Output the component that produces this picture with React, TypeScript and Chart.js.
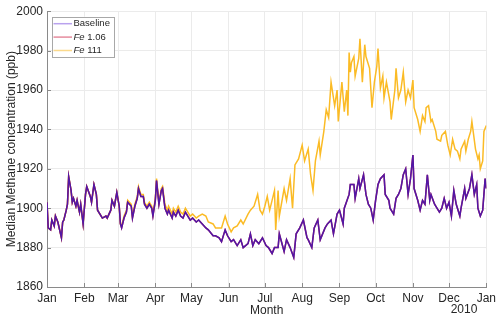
import { useEffect, useRef } from 'react';
import { Chart, registerables } from 'chart.js';

Chart.register(...registerables);

const FONT = '"Liberation Sans", Arial, Helvetica, sans-serif';
const TEXT = '#262626';

const monthLabels = ['Jan', 'Feb', 'Mar', 'Apr', 'May', 'Jun', 'Jul', 'Aug', 'Sep', 'Oct', 'Nov', 'Dec', 'Jan'];
const monthStartDays = [0, 31, 59, 90, 120, 151, 181, 212, 243, 273, 304, 334, 365];
const yearLabel = '2010';

const baselineDays = [
  0, 1, 3, 4, 6, 7, 9, 12, 13, 14,
  16, 17, 18, 20, 21, 22, 24, 25, 27, 28,
  30, 32, 33, 36, 37, 39, 41, 42, 45, 46,
  49, 50, 53, 54, 56, 58, 60, 61, 62, 64,
  66, 67, 70, 71, 73, 75, 76, 78, 80, 81,
  83, 85, 87, 88, 90, 91, 93, 95, 96, 98,
  100, 101, 104, 105, 107, 109, 111, 113, 115, 117,
  119, 121, 124, 126, 129, 132, 134, 138, 140, 143,
  145, 148, 150, 153, 155, 158, 161, 163, 167, 169,
  171, 173, 176, 179, 182, 184, 187, 189, 192, 193,
  197, 199, 202, 205, 207, 210, 213, 216, 217, 220,
  222, 225, 227, 231, 233, 236, 238, 241, 243, 246,
  247, 251, 252, 255, 256, 259, 260, 263, 265, 267,
  269, 271, 273, 275, 277, 280, 281, 284, 285, 288,
  290, 292, 294, 296, 298, 300, 302, 304, 305, 308,
  310, 312, 314, 316, 318, 319, 322, 324, 326, 328,
  330, 332, 334, 336, 338, 340, 343, 344, 347, 348,
  351, 353, 355, 357, 358, 360, 362, 364, 365,
];
const baselineValues = [
  1903, 1890, 1889, 1894, 1891, 1896, 1893, 1885, 1893, 1894,
  1899, 1902, 1916, 1909, 1903, 1905, 1901, 1904, 1898, 1902,
  1892, 1907, 1911, 1906, 1903, 1912, 1907, 1899, 1896, 1895,
  1896, 1895, 1899, 1904, 1901, 1908, 1901, 1892, 1890, 1895,
  1898, 1903, 1901, 1895, 1901, 1905, 1910, 1906, 1906, 1902,
  1900, 1902, 1900, 1896, 1904, 1914, 1902, 1909, 1910, 1900,
  1897, 1899, 1895, 1898, 1896, 1899, 1896, 1895, 1898, 1896,
  1894, 1895, 1893, 1894, 1892, 1890, 1889, 1886, 1886, 1885,
  1883, 1889, 1886, 1883, 1884, 1881, 1884, 1880, 1882, 1887,
  1881, 1884, 1882, 1885, 1881, 1880, 1877, 1880, 1880, 1887,
  1878, 1884, 1880, 1875, 1887, 1890, 1894, 1885, 1884, 1880,
  1890, 1894, 1884, 1890, 1892, 1894, 1887, 1897, 1899, 1892,
  1900, 1907, 1912, 1912, 1905, 1915, 1910, 1917, 1907, 1902,
  1900, 1894, 1904, 1912, 1915, 1917, 1907, 1904, 1900, 1897,
  1905, 1907, 1910, 1917, 1920, 1907, 1915, 1927, 1910, 1904,
  1899, 1904, 1902, 1917, 1904, 1907, 1902, 1900, 1898, 1900,
  1905, 1900, 1903, 1896, 1909, 1902, 1896, 1900, 1910, 1905,
  1910, 1917, 1907, 1912, 1900, 1896, 1899, 1915, 1910,
];

// Fe 1.06 is indistinguishable from the Baseline curve in the picture
const fe106Days = baselineDays;
const fe106Values = baselineValues;

const fe111Days = [
  0, 1, 3, 4, 6, 7, 9, 12, 13, 14,
  16, 17, 18, 20, 21, 22, 24, 25, 27, 28,
  30, 32, 33, 36, 37, 39, 41, 42, 45, 46,
  49, 50, 53, 54, 56, 58, 60, 61, 62, 64,
  66, 67, 70, 71, 73, 75, 76, 78, 80, 81,
  83, 85, 87, 88, 90, 91, 93, 95, 96, 98,
  100, 101, 104, 105, 107, 109, 111, 113, 115, 117,
  119, 121, 124, 126, 129, 132, 134, 138, 140, 143,
  145, 148, 150, 153, 155, 158, 161, 163, 167, 169,
  172, 175, 177, 179, 181, 183, 185, 187, 189, 190,
  192, 193, 197, 199, 202, 204, 206, 209, 212, 214,
  217, 219, 221, 223, 226, 227, 230, 232, 234, 236,
  239, 241, 242, 245, 247, 249, 250, 251, 252, 253,
  255, 256, 259, 260, 262, 264, 265, 268, 270, 272,
  274, 275, 277, 279, 280, 282, 285, 286, 289, 290,
  292, 294, 296, 298, 300, 302, 304, 305, 308, 310,
  312, 314, 315, 317, 319, 320, 323, 324, 327, 328,
  331, 333, 335, 337, 339, 341, 343, 344, 347, 348,
  350, 352, 353, 356, 358, 359, 360, 362, 363, 365,
];
const fe111Values = [
  1903, 1890, 1889, 1894, 1891, 1896, 1893, 1885, 1893, 1894,
  1899, 1902, 1916, 1909, 1903, 1905, 1901, 1904, 1898, 1902,
  1892, 1907, 1911, 1906, 1903, 1912, 1907, 1899, 1896, 1895,
  1896, 1895, 1899, 1904, 1901, 1908, 1901, 1892, 1891, 1896,
  1899, 1904, 1902, 1896, 1902, 1906, 1911, 1907, 1907, 1903,
  1901, 1903, 1901, 1897, 1905, 1915, 1903, 1910, 1911, 1902,
  1899, 1901, 1897, 1900, 1898, 1901, 1898, 1897, 1900, 1898,
  1896, 1897, 1895, 1896, 1897, 1896, 1893, 1892, 1890, 1890,
  1890, 1896, 1892, 1888, 1890, 1891, 1894, 1892, 1897, 1899,
  1901, 1907, 1899, 1897, 1901, 1906, 1899, 1904, 1909, 1889,
  1909, 1896, 1910, 1904, 1915, 1900, 1922, 1925, 1932, 1924,
  1930, 1917, 1909, 1924, 1934, 1927, 1939, 1950, 1946, 1964,
  1952, 1960, 1944, 1964, 1949, 1960, 1947, 1979, 1969, 1974,
  1977, 1967, 1976, 1986, 1964, 1983, 1977, 1971, 1951, 1964,
  1972, 1981, 1961, 1967, 1956, 1964, 1954, 1945, 1960, 1971,
  1956, 1960, 1969, 1954, 1960, 1956, 1965, 1951, 1945, 1939,
  1947, 1944, 1951, 1952, 1944, 1945, 1939, 1935, 1934, 1937,
  1939, 1932, 1927, 1935, 1930, 1929, 1925, 1930, 1934, 1929,
  1935, 1939, 1944, 1930, 1925, 1927, 1920, 1924, 1939, 1942,
];

const yMin = 1860;
const yMax = 2000;
const yStep = 20;

const seriesColors = ['#5217a6', '#c4314f', '#fbbb25'];
const legendColors = ['#b9a2ee', '#e68c9e', '#fbd98c'];
const legendItems = [
  { italic: '', rest: 'Baseline' },
  { italic: 'Fe', rest: ' 1.06' },
  { italic: 'Fe', rest: ' 111' },
];

const toPoints = (d: number[], v: number[]) => d.map((x, i) => ({ x, y: v[i] }));

const decorPlugin = {
  id: 'decor',
  beforeDatasetsDraw(chart: any) {
    const { ctx, chartArea: a, scales } = chart;
    ctx.save();
    ctx.strokeStyle = '#8a8a8a';
    ctx.lineWidth = 1;
    ctx.beginPath();
    for (const d of monthStartDays) {
      const x = Math.round(scales.x.getPixelForValue(d)) + 0.5;
      ctx.moveTo(x, a.bottom);
      ctx.lineTo(x, a.bottom - 4);
    }
    for (let v = yMin; v <= yMax; v += yStep) {
      const y = Math.round(scales.y.getPixelForValue(v)) + 0.5;
      ctx.moveTo(a.left, y);
      ctx.lineTo(a.left + 4, y);
    }
    ctx.stroke();
    ctx.restore();
  },
  afterDraw(chart: any) {
    const { ctx, chartArea: a } = chart;
    ctx.save();
    ctx.fillStyle = TEXT;
    // axis titles
    ctx.font = `12px ${FONT}`;
    ctx.textAlign = 'center';
    ctx.textBaseline = 'alphabetic';
    ctx.fillText('Month', (a.left + a.right) / 2, 314);
    ctx.textAlign = 'right';
    ctx.fillText(yearLabel, a.right - 9, 313);
    ctx.save();
    ctx.translate(15, (a.top + a.bottom) / 2);
    ctx.rotate(-Math.PI / 2);
    ctx.textAlign = 'center';
    ctx.fillText('Median Methane concentration (ppb)', 0, 0);
    ctx.restore();

    // legend
    const bx = a.left + 5;
    const by = a.top + 5.5;
    const bw = 62;
    const bh = 40;
    ctx.fillStyle = '#ffffff';
    ctx.fillRect(bx, by, bw, bh);
    ctx.strokeStyle = '#a8a8a8';
    ctx.lineWidth = 1;
    ctx.strokeRect(Math.round(bx) + 0.5, Math.round(by) + 0.5, bw, bh);
    legendItems.forEach((it, i) => {
      const cy = by + 7 + i * 13.4;
      ctx.strokeStyle = legendColors[i];
      ctx.lineWidth = 1.5;
      ctx.beginPath();
      ctx.moveTo(bx + 1.5, cy);
      ctx.lineTo(bx + 20, cy);
      ctx.stroke();
      ctx.fillStyle = TEXT;
      ctx.textAlign = 'left';
      ctx.textBaseline = 'middle';
      let tx = bx + 21.5;
      if (it.italic) {
        ctx.font = `italic 9.5px ${FONT}`;
        ctx.fillText(it.italic, tx, cy);
        tx += ctx.measureText(it.italic).width;
      }
      ctx.font = `9.5px ${FONT}`;
      ctx.fillText(it.rest, tx, cy);
    });
    ctx.restore();
  },
};

export default function App() {
  const ref = useRef<HTMLCanvasElement>(null);
  useEffect(() => {
    if (!ref.current) return;
    const mk = (label: string, d: number[], v: number[], c: string) => ({
      label,
      data: toPoints(d, v),
      borderColor: c,
      backgroundColor: c,
      borderWidth: 1.5,
      pointRadius: 0,
      tension: 0,
      fill: false,
    });
    const chart = new Chart(ref.current, {
      type: 'line',
      data: {
        datasets: [
          mk('Baseline', baselineDays, baselineValues, seriesColors[0]),
          mk('Fe 1.06', fe106Days, fe106Values, seriesColors[1]),
          mk('Fe 111', fe111Days, fe111Values, seriesColors[2]),
        ],
      },
      options: {
        animation: false,
        responsive: false,
        maintainAspectRatio: false,
        layout: { padding: { top: 8, right: 13, left: 0, bottom: 0 } },
        plugins: { legend: { display: false }, tooltip: { enabled: false } },
        scales: {
          x: {
            type: 'linear',
            min: 0,
            max: 365,
            afterBuildTicks: (s: any) => {
              s.ticks = monthStartDays.map((v) => ({ value: v }));
            },
            afterFit: (s: any) => {
              s.height = 32;
            },
            ticks: {
              callback: (_v: any, i: number) => monthLabels[i],
              color: TEXT,
              font: { family: FONT, size: 12 },
              padding: 4,
              maxRotation: 0,
              autoSkip: false,
            },
            grid: { color: '#ebebeb', drawTicks: false },
            border: { color: '#8a8a8a', width: 1 },
          },
          y: {
            type: 'linear',
            min: yMin,
            max: yMax,
            afterFit: (s: any) => {
              s.width = 47;
            },
            ticks: {
              stepSize: yStep,
              callback: (v: any) => String(v),
              color: TEXT,
              font: { family: FONT, size: 12 },
              padding: 4,
            },
            grid: { color: '#ebebeb', drawTicks: false },
            border: { color: '#8a8a8a', width: 1 },
          },
        },
      },
      plugins: [decorPlugin],
    } as any);
    return () => chart.destroy();
  }, []);
  return (
    <div style={{ position: 'fixed', left: 0, top: 0, width: 500, height: 319, background: '#fff' }}>
      <canvas ref={ref} width={500} height={319} style={{ width: 500, height: 319, display: 'block' }} />
    </div>
  );
}
